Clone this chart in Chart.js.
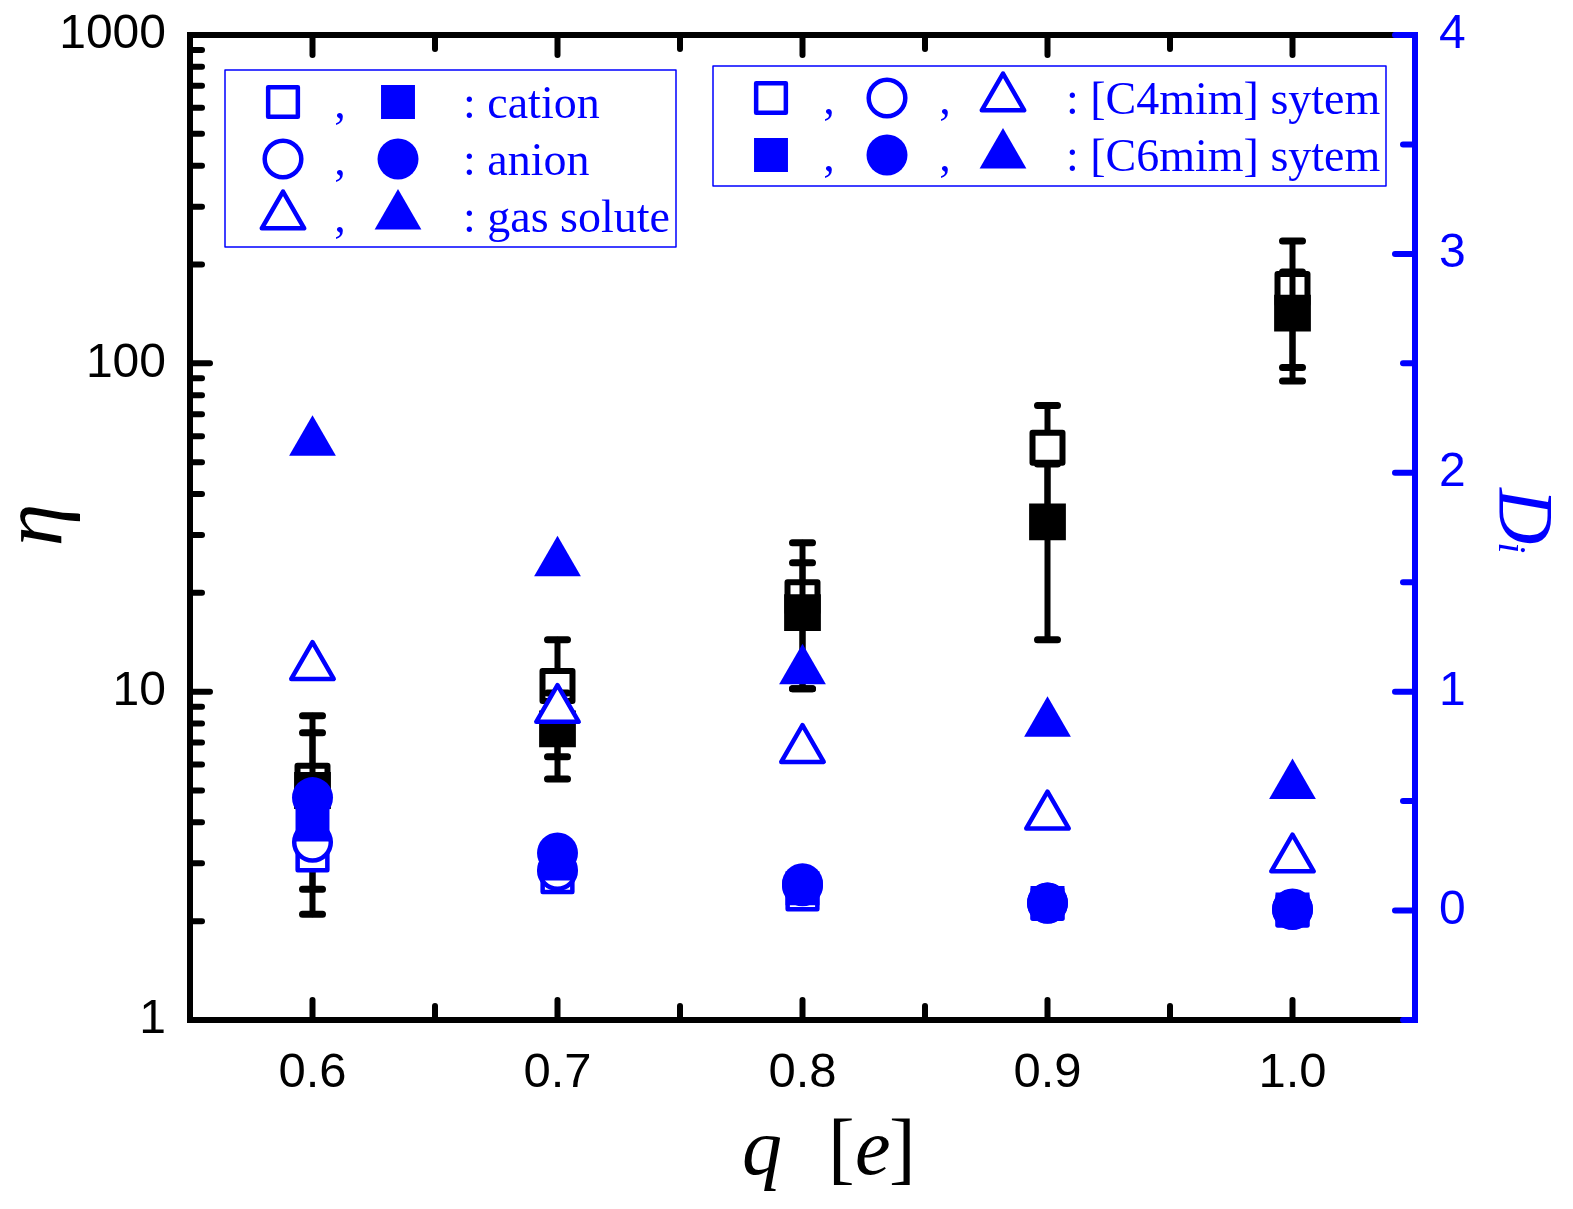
<!DOCTYPE html>
<html><head><meta charset="utf-8">
<script src="https://cdn.jsdelivr.net/npm/chart.js@4/dist/chart.umd.min.js"></script>
<style>html,body{margin:0;padding:0;background:#fff;}canvas{display:block;}</style>
</head><body>
<canvas id="c" width="1573" height="1209"></canvas>
<script>
// ---- data ----
const qValues = [0.6, 0.7, 0.8, 0.9, 1.0];
const xTickValues = [0.6, 0.7, 0.8, 0.9, 1.0];
const xTickLabels = ['0.6', '0.7', '0.8', '0.9', '1.0'];
const etaTickValues = [1, 10, 100, 1000];
const etaTickLabels = ['1', '10', '100', '1000'];
const dTickValues = [0, 1, 2, 3, 4];
const dTickLabels = ['0', '1', '2', '3', '4'];

const etaC4 = [5.35, 10.4, 19.4, 55.3, 168.5];
const etaC4ErrPlus = [3.1, 4.0, 9.0, 19.1, 67.5];
const etaC4ErrMinus = [3.25, 4.07, 9.2, 19.0, 71.3];
const etaC6 = [5.0, 7.7, 17.4, 32.9, 142.3];
const etaC6ErrPlus = [2.5, 2.2, 7.3, 16.5, 47.5];
const etaC6ErrMinus = [2.5, 2.28, 7.2, 18.5, 54.0];

const dCationC4 = [0.252, 0.153, 0.074, 0.03, 0.0];
const dAnionC4 = [0.312, 0.183, 0.114, 0.034, 0.005];
const dGasC4 = [1.114, 0.918, 0.735, 0.431, 0.235];
const dCationC6 = [0.393, 0.215, 0.102, 0.035, 0.005];
const dAnionC6 = [0.516, 0.263, 0.123, 0.034, 0.007];
const dGasC6 = [2.14, 1.589, 1.096, 0.856, 0.571];

// ---- styling ----
const BLUE = '#0000ff';
const BLACK = '#000000';
const SANS = '"Liberation Sans", Arial, sans-serif';
const SERIF = '"Liberation Serif", "Times New Roman", serif';

function pts(arr) { return qValues.map((q, i) => ({ x: q, y: arr[i] })); }

function marker(label, arr, axis, style, filled, color, order, rOpen, rFilled, bw) {
  return {
    label, data: pts(arr), yAxisID: axis, order,
    pointStyle: style,
    pointRadius: filled ? rFilled : rOpen,
    pointHoverRadius: filled ? rFilled : rOpen,
    borderWidth: filled ? 0 : bw,
    pointBorderWidth: filled ? 0 : bw,
    borderColor: color,
    backgroundColor: filled ? color : '#ffffff',
    clip: false
  };
}

const datasets = [
  marker('η [C4mim]', etaC4, 'y', 'rect', false, BLACK, 9, 21.2, 26, 6),
  marker('η [C6mim]', etaC6, 'y', 'rect', true, BLACK, 8, 21.2, 26, 6),
  marker('cation [C4mim]', dCationC4, 'y1', 'rect', false, BLUE, 6, 21, 24, 4.5),
  marker('anion [C4mim]', dAnionC4, 'y1', 'circle', false, BLUE, 5, 18.3, 20.5, 4.5),
  marker('gas solute [C4mim]', dGasC4, 'y1', 'triangle', false, BLUE, 4, 24.5, 27, 4.5),
  marker('cation [C6mim]', dCationC6, 'y1', 'rect', true, BLUE, 3, 21, 24, 4.5),
  marker('anion [C6mim]', dAnionC6, 'y1', 'circle', true, BLUE, 2, 18.3, 20.5, 4.5),
  marker('gas solute [C6mim]', dGasC6, 'y1', 'triangle', true, BLUE, 1, 24.5, 27, 4.5)
];

const errorSets = { 0: [etaC4ErrPlus, etaC4ErrMinus], 1: [etaC6ErrPlus, etaC6ErrMinus] };

function sym(ctx, style, filled, x, y) {
  const r = style === 'rect' ? (filled ? 24 : 21) : style === 'circle' ? (filled ? 20.5 : 18.3) : (filled ? 27 : 24.5);
  ctx.save();
  ctx.lineJoin = 'round';
  ctx.fillStyle = filled ? BLUE : '#ffffff';
  ctx.strokeStyle = BLUE;
  ctx.lineWidth = 4.5;
  Chart.helpers.drawPoint(ctx, { pointStyle: style, radius: r, borderWidth: filled ? 0 : 4.5, rotation: 0 }, x, y);
  ctx.restore();
}

function noPad(s) { s.paddingTop = 0; s.paddingBottom = 0; s.paddingLeft = 0; s.paddingRight = 0; }

const custom = {
  id: 'custom',
  beforeDatasetDraw(chart, args) {
    const ctx = chart.ctx;
    const e = errorSets[args.index];
    if (e) {
      const ds = chart.data.datasets[args.index];
      const xs = chart.scales.x, ys = chart.scales.y;
      ctx.save();
      ctx.strokeStyle = BLACK; ctx.lineCap = 'round';
      ds.data.forEach((p, i) => {
        const px = xs.getPixelForValue(p.x);
        const top = ys.getPixelForValue(p.y + e[0][i]);
        const bot = ys.getPixelForValue(p.y - e[1][i]);
        ctx.lineWidth = 6;
        ctx.beginPath();
        ctx.moveTo(px, top); ctx.lineTo(px, bot);
        ctx.stroke();
        ctx.lineWidth = 7;
        ctx.beginPath();
        ctx.moveTo(px - 10, top); ctx.lineTo(px + 10, top);
        ctx.moveTo(px - 10, bot); ctx.lineTo(px + 10, bot);
        ctx.stroke();
      });
      ctx.restore();
    }
    ctx.lineJoin = 'round';
  },
  afterDatasetsDraw(chart) {
    const ctx = chart.ctx;
    const a = chart.chartArea;
    const xs = chart.scales.x, ys = chart.scales.y, y1 = chart.scales.y1;
    ctx.save();
    ctx.lineCap = 'round';
    // ticks
    ctx.strokeStyle = BLACK; ctx.lineWidth = 6;
    const tick = (x1, yA, x2, yB) => { ctx.beginPath(); ctx.moveTo(x1, yA); ctx.lineTo(x2, yB); ctx.stroke(); };
    for (let v = 0.6; v <= 1.0001; v += 0.05) {
      const px = xs.getPixelForValue(v);
      const major = Math.abs(v * 10 - Math.round(v * 10)) < 1e-6;
      const L = major ? 20 : 14;
      tick(px, a.bottom, px, a.bottom - L);
      tick(px, a.top, px, a.top + L);
    }
    for (let d = 1; d <= 100; d *= 10) {
      for (let m = 1; m <= 9; m++) {
        const v = d * m;
        const py = ys.getPixelForValue(v);
        const L = m === 1 ? 20 : 12;
        tick(a.left, py, a.left + L, py);
      }
    }
    // frame
    ctx.lineCap = 'butt';
    ctx.lineJoin = 'miter';
    ctx.strokeRect(a.left, a.top, a.right - a.left, a.bottom - a.top);
    // right blue axis
    ctx.strokeStyle = BLUE;
    ctx.beginPath(); ctx.moveTo(a.right, a.top - 3); ctx.lineTo(a.right, a.bottom + 3); ctx.stroke();
    ctx.lineCap = 'round';
    for (let v = -0.5; v <= 4.0001; v += 0.5) {
      const py = y1.getPixelForValue(v);
      const major = Math.abs(v - Math.round(v)) < 1e-6;
      tick(a.right, py, a.right - (major ? 20 : 12), py);
    }
    ctx.restore();

    // legends
    ctx.save();
    ctx.strokeStyle = BLUE; ctx.lineWidth = 1.5;
    ctx.strokeRect(225, 70, 451, 177);
    ctx.strokeRect(713, 66, 673, 120);
    ctx.fillStyle = BLUE;
    ctx.font = '46px ' + SERIF;
    ctx.textBaseline = 'alphabetic';
    const rows1 = [['rect', ': cation'], ['circle', ': anion'], ['triangle', ': gas solute']];
    rows1.forEach((r, i) => {
      const yc = 102 + i * 57;
      sym(ctx, r[0], false, 283, yc);
      sym(ctx, r[0], true, 398, yc);
      ctx.fillStyle = BLUE;
      ctx.textAlign = 'center'; ctx.fillText(',', 340, yc + 16);
      ctx.textAlign = 'left'; ctx.fillText(r[1], 463, yc + 16);
    });
    const rows2 = [[false, ': [C4mim] sytem'], [true, ': [C6mim] sytem']];
    rows2.forEach((r, i) => {
      const yc = 98 + i * 57;
      sym(ctx, 'rect', r[0], 771, yc);
      sym(ctx, 'circle', r[0], 887, yc);
      sym(ctx, 'triangle', r[0], 1003, yc);
      ctx.fillStyle = BLUE;
      ctx.textAlign = 'center';
      ctx.fillText(',', 829, yc + 16);
      ctx.fillText(',', 945, yc + 16);
      ctx.textAlign = 'left'; ctx.fillText(r[1], 1066, yc + 16);
    });
    ctx.restore();

    // axis titles
    ctx.save();
    ctx.fillStyle = BLACK;
    ctx.textBaseline = 'alphabetic'; ctx.textAlign = 'left';
    ctx.font = 'italic 80px ' + SERIF;
    ctx.fillText('q', 742, 1174);
    ctx.font = '80px ' + SERIF;
    ctx.fillText('[', 828, 1174);
    ctx.font = 'italic 80px ' + SERIF;
    ctx.fillText('e', 855, 1174);
    ctx.font = '80px ' + SERIF;
    ctx.fillText(']', 889, 1174);
    // eta
    ctx.save();
    ctx.translate(61, 525);
    ctx.rotate(-Math.PI / 2);
    ctx.textAlign = 'center';
    ctx.font = 'italic 86px ' + SERIF;
    ctx.fillText('η', 0, 0);
    ctx.restore();
    // D_i
    ctx.save();
    ctx.fillStyle = BLUE;
    ctx.translate(1500, 488);
    ctx.rotate(Math.PI / 2);
    ctx.textAlign = 'left';
    ctx.font = 'italic 78px ' + SERIF;
    ctx.fillText('D', 0, 0);
    const w = ctx.measureText('D').width;
    ctx.font = 'italic 40px ' + SERIF;
    ctx.fillText('i', w - 2, 1);
    ctx.restore();
    ctx.restore();
  }
};

new Chart(document.getElementById('c'), {
  type: 'scatter',
  data: { datasets },
  options: {
    responsive: false,
    animation: false,
    devicePixelRatio: 1,
    events: [],
    layout: { padding: { left: 0, right: 0, top: 35, bottom: 0 } },
    plugins: { legend: { display: false }, tooltip: { enabled: false } },
    scales: {
      x: {
        type: 'linear', position: 'bottom', min: 0.55, max: 1.05,
        grid: { display: false, drawTicks: false }, border: { display: false },
        afterBuildTicks: s => { s.ticks = xTickValues.map(v => ({ value: v })); },
        afterFit: s => { s.height = 189; noPad(s); },
        ticks: { autoSkip: false, maxRotation: 0, padding: 24, color: BLACK,
                 font: { family: SANS, size: 49 },
                 callback: (v, i) => xTickLabels[i] }
      },
      y: {
        type: 'logarithmic', position: 'left', min: 1, max: 1000,
        grid: { display: false, drawTicks: false }, border: { display: false },
        afterBuildTicks: s => { s.ticks = etaTickValues.map(v => ({ value: v })); },
        afterFit: s => { s.width = 190; noPad(s); },
        ticks: { autoSkip: false, padding: 24, color: BLACK,
                 font: { family: SANS, size: 48 },
                 callback: (v, i) => etaTickLabels[i] }
      },
      y1: {
        type: 'linear', position: 'right', min: -0.5, max: 4,
        grid: { display: false, drawTicks: false }, border: { display: false },
        afterBuildTicks: s => { s.ticks = dTickValues.map(v => ({ value: v })); },
        afterFit: s => { s.width = 158; noPad(s); },
        ticks: { autoSkip: false, padding: 24, color: BLUE,
                 font: { family: SANS, size: 48 },
                 callback: (v, i) => dTickLabels[i] }
      }
    }
  },
  plugins: [custom]
});
</script>
</body></html>
